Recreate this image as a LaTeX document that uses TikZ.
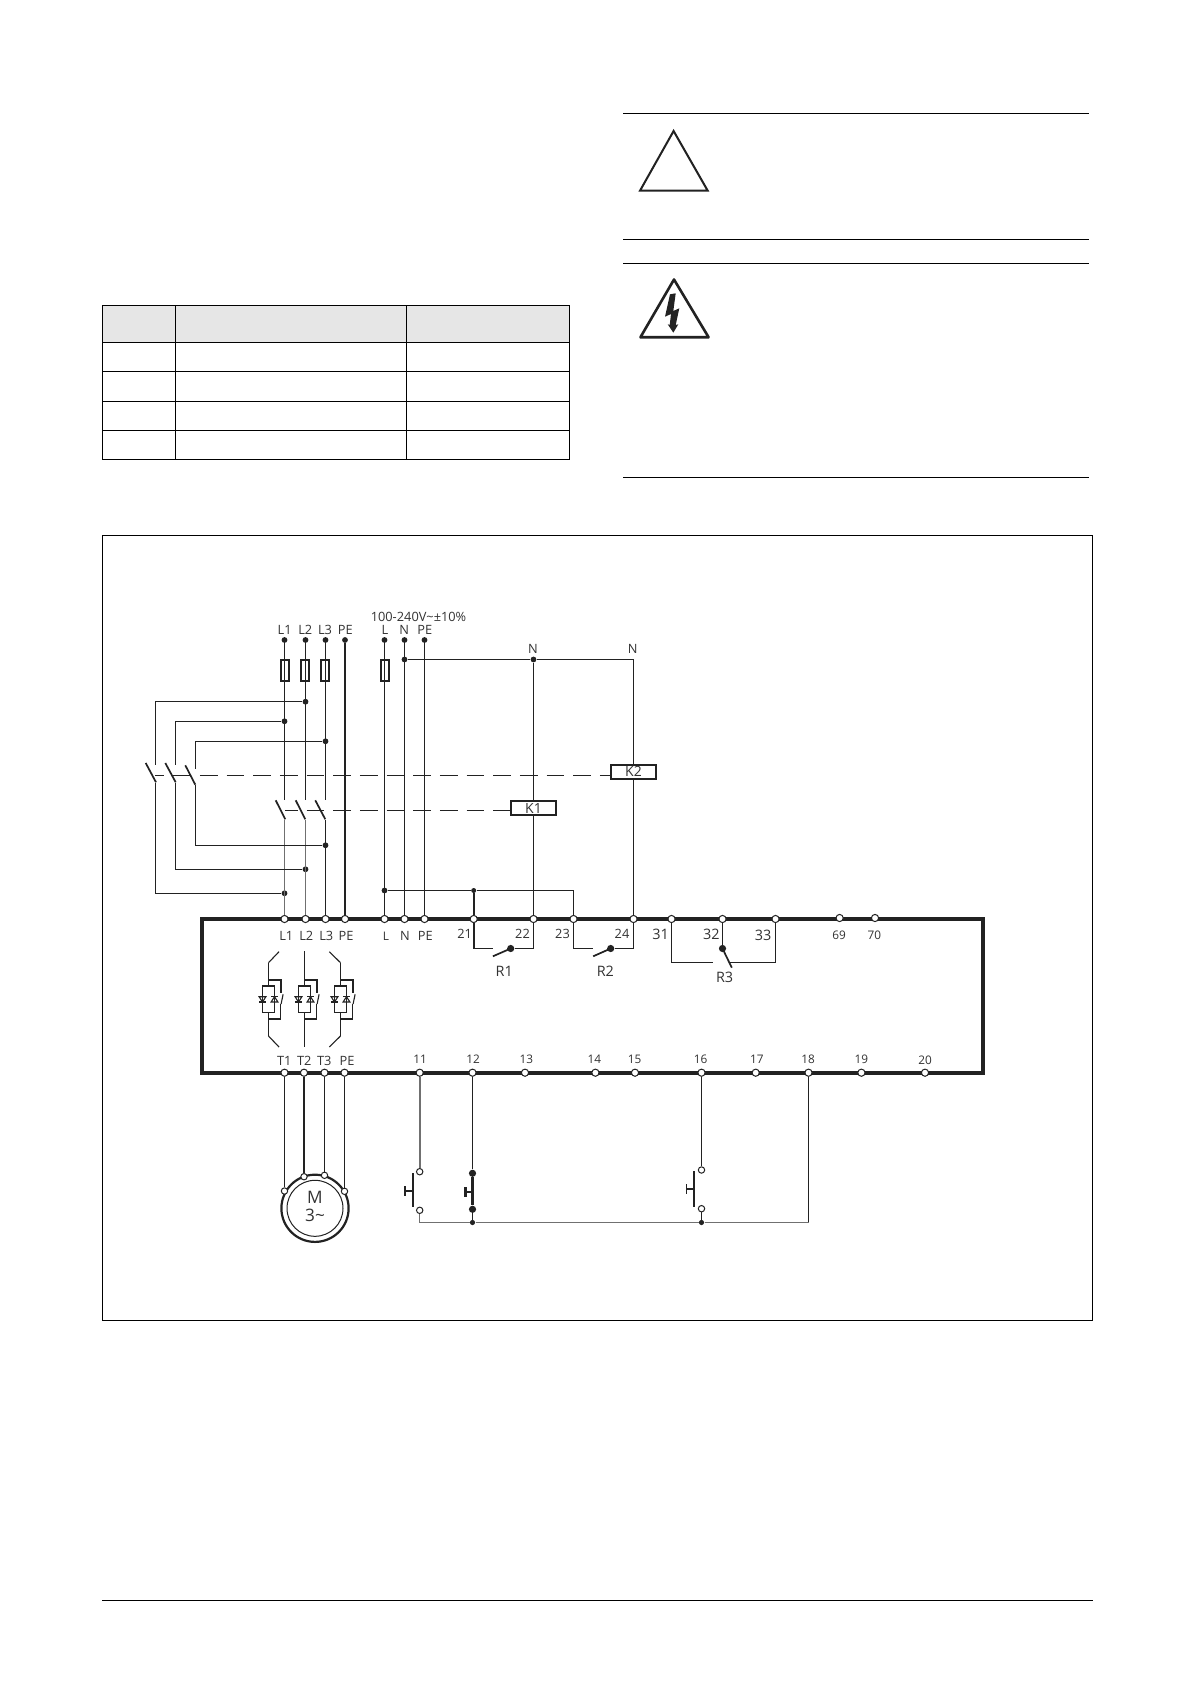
\documentclass[tikz,border=0pt]{standalone}
\usepackage{fontspec}
\setmainfont{Open Sans}
\definecolor{ink}{HTML}{222222}
\definecolor{txt}{HTML}{333333}
\definecolor{mid}{HTML}{707070}
\definecolor{hdr}{HTML}{E6E6E6}
\tikzset{
  wire/.style={line width=.55pt,color=ink},
  midwire/.style={line width=.9pt,color=mid},
  fatwire/.style={line width=1.1pt,color=ink},
  rule/.style={line width=.6pt,color=black},
  bar/.style={line width=2pt,color=ink},
  slash/.style={line width=.85pt,color=ink},
  dashwire/.style={line width=.55pt,color=ink,dash pattern=on 8.85pt off 4.48pt},
  term/.style={circle,draw=ink,fill=white,line width=.5pt,inner sep=0pt,minimum size=3.6pt},
  sterm/.style={circle,draw=ink,fill=white,line width=.5pt,inner sep=0pt,minimum size=3.2pt},
  jdot/.style={circle,fill=ink,inner sep=0pt,minimum size=2.9pt},
  bigdot/.style={circle,fill=ink,inner sep=0pt,minimum size=3.6pt},
  fusebox/.style={rectangle,draw=ink,line width=.9pt,inner sep=0pt,minimum width=3.9pt,minimum height=10.4pt},
  coil/.style={rectangle,draw=ink,fill=white,line width=1pt,inner sep=0pt,minimum width=22.2pt,minimum height=7pt,font=\fontsize{7}{8}\selectfont,text=txt},
  lbl/.style={inner sep=0pt,text=txt,font=\fontsize{6.4}{7}\selectfont},
  lblm/.style={inner sep=0pt,text=txt,font=\fontsize{7.2}{8}\selectfont},
  lblb/.style={inner sep=0pt,text=txt,font=\fontsize{7.2}{8}\selectfont},
  lbls/.style={inner sep=0pt,text=txt,font=\fontsize{5.9}{7}\selectfont},
  lblx/.style={inner sep=0pt,text=txt,font=\fontsize{8.6}{10}\selectfont}
}
\newcommand{\thyrgroup}[1]{%
  \begin{scope}[shift={(#1,0)}]
    \draw[wire] (0,962.7) -- (0,986) (0,1012.7) -- (0,1036);
    \draw[wire] (-6,986) rectangle (6,1012.7);
    \draw[wire] (0,1019) -- (12.4,1019) -- (12.4,1004);
    \draw[fatwire,line width=.95pt] (0,980) -- (12.4,980) -- (12.4,993);
    \draw[wire] (14.6,994.3) -- (12.6,1004);
    \draw[wire] (-9.4,996.7) -- (-2.6,996.7) -- (-6,1002) -- cycle;
    \draw[wire] (-9.4,1002) -- (-2.6,1002);
    \draw[wire] (2.6,1002) -- (9.4,1002) -- (6,996.7) -- cycle;
    \draw[wire] (2.6,996.7) -- (9.4,996.7);
  \end{scope}}
\begin{document}
\begin{tikzpicture}[x=.5pt,y=-.5pt]
\useasboundingbox[fill=white] (0,0) rectangle (1190,1684);

% page furniture
\fill[hdr] (102.5,305.5) rectangle (569.5,342.5);
\draw[rule] (102.5,305.5) rectangle (569.5,459.5);
\draw[rule] (102.5,342.5) -- (569.5,342.5) (102.5,371.5) -- (569.5,371.5) (102.5,401.5) -- (569.5,401.5) (102.5,430.5) -- (569.5,430.5);
\draw[rule] (175.5,305.5) -- (175.5,459.5) (406.5,305.5) -- (406.5,459.5);
\draw[rule] (623,113.5) -- (1089,113.5) (623,239.5) -- (1089,239.5) (623,263.5) -- (1089,263.5) (623,477.5) -- (1089,477.5);
\draw[rule] (102.5,535.5) rectangle (1092.5,1320.5);
\draw[rule] (102,1600.5) -- (1092.5,1600.5);
\draw[line width=1pt,color=ink,line join=miter] (673.6,131) -- (707.7,190.7) -- (640,190.7) -- cycle;
\draw[line width=1.3pt,color=ink,line join=round] (674,279.5) -- (708.6,337.3) -- (640.4,337.3) -- cycle;
\fill[ink] (675.7,293.3) -- (670,294.3) -- (665,316.7) -- (671,314) -- (669.7,325) -- (667.7,324.3) -- (673.3,332.7) -- (678.3,324.3) -- (675.7,325) -- (679.3,308.3) -- (673.3,311) -- cycle;

% main enclosure
\draw[bar] (201.7,919) rectangle (983,1072.7);

% supply dots and labels
\foreach \n/\x in {L1/284.5,L2/305.5,L3/325.5,PE/345,L/384.5,N/404.5,PEb/424.5}
  \node[jdot] (s\n) at (\x,640) {};
\node[lbl] (sl1) at (284.7,630) {L1};
\node[lbl] (sl2) at (305.3,630) {L2};
\node[lbl] (sl3) at (325,630) {L3};
\node[lbl] (sl4) at (345.3,630) {PE};
\node[lbl] (sl5) at (385,630) {L};
\node[lbl] (sl6) at (404.3,630) {N};
\node[lbl] (sl7) at (424.7,630) {PE};
\node[lbl] (volt) at (418.5,617) {100-240V\textasciitilde±10\%};

% fuses
\node[fusebox] (f1) at (285,670.3) {};
\node[fusebox] (f2) at (305,670.3) {};
\node[fusebox] (f3) at (324.7,670.3) {};
\node[fusebox] (f4) at (384.7,670.3) {};

% upper bus terminals
\foreach \n/\x in {L1/284.5,L2/305.5,L3/325.5,PE/345,L/384.5,N/404.5,PEb/424.5,a21/473.7,a22/533.5,a23/573.5,a24/633.5,a31/671.5,a32/722.5,a33/775.5}
  \node[term] (t\n) at (\x,919) {};
\node[term] (t69) at (839.6,918) {};
\node[term] (t70) at (875,918) {};
% lower bus terminals
\foreach \n/\x in {T1/284.5,T2/304,T3/324.5,TPE/344.5,a11/419.7,a12/472.5,a13/525,a14/595.4,a15/635,a16/701.5,a17/755.7,a18/808.5,a19/861.4}
  \node[term] (b\n) at (\x,1072.7) {};
\node[term] (ba20) at (925,1072.7) {};

% bus labels top
\node[lbl] (u1) at (286.3,936) {L1};
\node[lbl] (u2) at (306.3,936) {L2};
\node[lbl] (u3) at (326.3,936) {L3};
\node[lbl] (u4) at (346,936) {PE};
\node[lbls] (u5) at (386,936) {L};
\node[lbl] (u6) at (405,936) {N};
\node[lbl] (u7) at (425.3,936) {PE};
\node[lbl] (n21) at (464.6,934) {21};
\node[lbl] (n22) at (522.5,934) {22};
\node[lbl] (n23) at (562.5,934) {23};
\node[lbl] (n24) at (622,934) {24};
\node[lblm] (n31) at (660.7,934) {31};
\node[lblm] (n32) at (711.4,934) {32};
\node[lblm] (n33) at (763,935) {33};
\node[lbls] (n69) at (839,935) {69};
\node[lbls] (n70) at (874.3,935) {70};
% bus labels bottom
\node[lbl] (d1) at (284.3,1060.7) {T1};
\node[lbl] (d2) at (304.3,1060.7) {T2};
\node[lbl] (d3) at (324.3,1060.7) {T3};
\node[lbl] (d4) at (347,1060.7) {PE};
\foreach \t/\x in {11/420,12/473,13/526.3,14/594.3,15/634.6,16/700.7,17/756.8,18/808.2,19/861.4}
  \node[lbls] (m\t) at (\x,1059.3) {\t};
\node[lbls] (m20) at (925,1060.5) {20};

% junction dots
\node[jdot] (jL2a) at (305.5,701.7) {};
\node[jdot] (jL1a) at (284.5,721.3) {};
\node[jdot] (jL3a) at (325.5,741.3) {};
\node[jdot] (jL3b) at (325.5,845.3) {};
\node[jdot] (jL2b) at (305.5,869.3) {};
\node[jdot] (jL1b) at (284.5,893.3) {};
\node[jdot] (jN) at (404.5,659.5) {};
\node[jdot] (jN22) at (533.5,659.5) {};
\node[jdot] (jLb) at (384.5,890.5) {};
\node[jdot,minimum size=2.5pt] (j21) at (473.7,890.5) {};

% coils
\node[coil] (K1) at (533.5,808.4) {K1};
\node[coil] (K2) at (633.5,771.5) {K2};
\node[lbl] (nN1) at (533,649.3) {N};
\node[lbl] (nN2) at (632.7,649.3) {N};

% free ends of the contactors
\coordinate (a1i) at (284.5,799.5);
\coordinate (a2i) at (305.5,799.5);
\coordinate (a3i) at (325.5,799.5);
\coordinate (a1s) at (275.7,800.3);  \coordinate (a1e) at (285.3,819.3);
\coordinate (a2s) at (295.7,800.3);  \coordinate (a2e) at (305.3,819.3);
\coordinate (a3s) at (315.3,800.3);  \coordinate (a3e) at (325.3,819.3);
\coordinate (a1o) at (284.5,820);
\coordinate (a2o) at (305.5,820);
\coordinate (a3o) at (325.5,820);
\coordinate (b1i) at (155.5,764.5);
\coordinate (b2i) at (175.5,764.5);
\coordinate (b3i) at (195.5,769);
\coordinate (b1s) at (145.7,763);  \coordinate (b1e) at (156,782.3);
\coordinate (b2s) at (165.3,763);  \coordinate (b2e) at (175.7,782.3);
\coordinate (b3s) at (185.3,765.3);\coordinate (b3e) at (195.3,784.7);
\coordinate (b1o) at (155.5,783);
\coordinate (b2o) at (175.5,783);
\coordinate (b3o) at (195.5,785);
\coordinate (dk2) at (155.3,775.5);
\coordinate (dk1) at (285.3,810.5);

% phase wiring
\draw[wire] (sL1) -- (a1i);
\draw[wire] (sL2) -- (a2i);
\draw[wire] (sL3) -- (a3i);
\draw[midwire] (a1o) -- (tL1);
\draw[midwire] (a2o) -- (tL2);
\draw[wire] (a3o) -- (tL3);
\draw[fatwire] (sPE) -- (tPE);
\draw[wire] (sL) -- (tL);
\draw[wire] (sN) -- (tN);
\draw[wire] (sPEb) -- (tPEb);
\foreach \s/\e in {a1s/a1e,a2s/a2e,a3s/a3e,b1s/b1e,b2s/b2e,b3s/b3e}
  \draw[slash] (\s) -- (\e);
\draw[wire] (jL2a) -| (b1i);
\draw[wire] (jL1a) -| (b2i);
\draw[wire] (jL3a) -| (b3i);
\draw[wire] (jL1b) -| (b1o);
\draw[wire] (jL2b) -| (b2o);
\draw[wire] (jL3b) -| (b3o);
\draw[dashwire,dash phase=4.35pt] (dk2) -- (K2.west |- dk2);
\draw[dashwire,dash phase=2.65pt] (dk1) -- (K1.west |- dk1);

% control supply
\draw[wire] (jN) -- (jN22);
\draw[wire] (jN22) -- (K1);
\draw[wire] (K1) -- (ta22);
\draw[wire] (jN22) -| (K2);
\draw[wire] (K2) -- (ta24);
\draw[wire] (jLb) -- (j21);
\draw[wire] (j21) -| (ta23);
\draw[fatwire,line width=.85pt] (j21) -- (ta21);

% relay contacts
\node[bigdot] (r1d) at (510.7,948.5) {};
\node[bigdot] (r2d) at (610.7,948.5) {};
\node[bigdot] (r3d) at (722.5,948.5) {};
\coordinate (r1a) at (492.9,948.5);
\coordinate (r2a) at (592.5,948.5);
\coordinate (r1t) at (492.9,956.3);
\coordinate (r2t) at (593.2,956.3);
\coordinate (r3t) at (731.8,967.7);
\coordinate (r3l) at (712.9,962.5);
\coordinate (r3r) at (730,962.5);
\draw[wire,line width=.8pt] (ta21) -- (ta21 |- r1a);
\draw[wire] (ta21 |- r1a) -- (r1a);
\draw[wire] (r1d) -| (ta22);
\draw[slash] (r1d.center) -- (r1t);
\draw[wire] (ta23) |- (r2a);
\draw[wire] (r2d) -| (ta24);
\draw[slash] (r2d.center) -- (r2t);
\draw[wire] (ta31) |- (r3l);
\draw[wire] (ta33) |- (r3r);
\draw[wire] (ta32) -- (r3d);
\draw[slash] (r3d.center) -- (r3t);
\node[lblb] (R1) at (504.3,971.3) {R1};
\node[lblb] (R2) at (605.4,971.3) {R2};
\node[lblb] (R3) at (724.6,977) {R3};

% thyristor stacks
\thyrgroup{268.5}
\thyrgroup{304.5}
\thyrgroup{340.5}
\draw[wire] (279,951.7) -- (268.5,962.7) (268.5,1036) -- (279,1047);
\draw[wire] (304.5,951) -- (304.5,962.7) (304.5,1036) -- (304.5,1047);
\draw[wire] (329.3,951.7) -- (340.5,962.7) (340.5,1036) -- (329.3,1047);

% motor
\node[circle,draw=ink,line width=1.1pt,inner sep=0pt,minimum size=33.6pt] (mot) at (315,1208.3) {};
\node[circle,draw=ink,line width=.5pt,inner sep=0pt,minimum size=28pt] (motin) at (315,1208.3) {};
\node[lblx] (mM) at (315,1197.7) {M};
\node[lblx] (m3) at (315,1215) {3\textasciitilde};
\node[sterm] (mT1) at (284.5,1191) {};
\node[sterm] (mT2) at (304,1176.7) {};
\node[sterm] (mT3) at (324.5,1175.3) {};
\node[sterm] (mPE) at (344.5,1191.3) {};
\draw[wire] (bT1) -- (mT1);
\draw[fatwire] (bT2) -- (mT2);
\draw[wire] (bT3) -- (mT3);
\draw[wire] (bTPE) -- (mPE);

% push buttons
\node[sterm] (p11t) at (419.7,1171.7) {};
\node[sterm] (p11b) at (419.7,1210.3) {};
\node[bigdot] (p12t) at (472.5,1173.3) {};
\node[bigdot] (p12b) at (472.5,1209.3) {};
\node[sterm] (p16t) at (701.5,1170) {};
\node[sterm] (p16b) at (701.5,1208.7) {};
\node[jdot,minimum size=2.6pt] (j12) at (472.5,1222.5) {};
\node[jdot,minimum size=2.6pt] (j16) at (701.5,1222.5) {};
\coordinate (c11) at (419.7,1222.5);
\coordinate (c18) at (808.5,1222.5);
\draw[midwire] (ba11) -- (p11t);
\draw[wire] (ba12) -- (p12t);
\draw[wire] (ba16) -- (p16t);
\draw[wire] (ba18) -- (c18);
\draw[midwire,line width=.65pt] (p11b) -- (c11) -- (j12);
\draw[midwire,line width=.65pt] (j12) -- (j16);
\draw[midwire,line width=.65pt] (j16) -- (c18);
\draw[wire] (p12b) -- (j12);
\draw[wire] (p16b) -- (j16);
\draw[slash] (412.7,1173.3) -- (412.7,1207.3);
\draw[slash] (405,1191) -- (412.7,1191) (405,1186) -- (405,1196);
\draw[fatwire] (p12t) -- (p12b);
\draw[fatwire] (465.5,1192.3) -- (472.5,1192.3) (465.5,1187.3) -- (465.5,1197.3);
\draw[slash] (694,1171) -- (694,1206.7);
\draw[slash] (686.4,1189) -- (694,1189) (686.4,1184) -- (686.4,1194);
\end{tikzpicture}
\end{document}
